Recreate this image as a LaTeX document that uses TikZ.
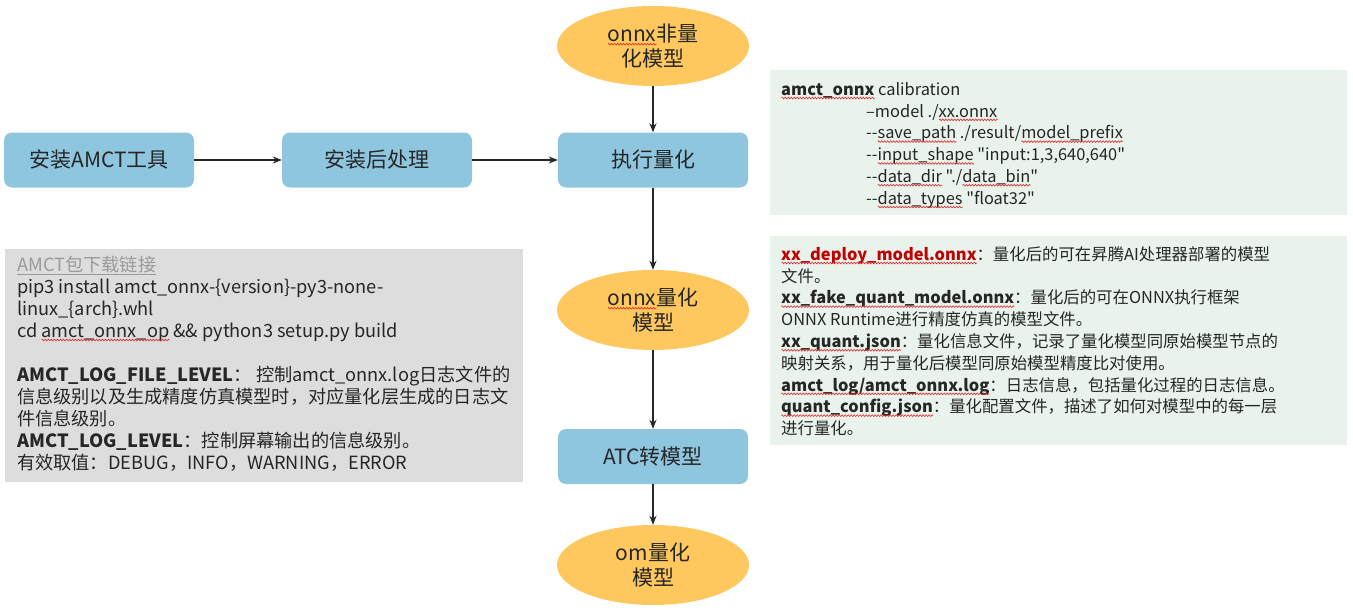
\documentclass[tikz,border=0pt]{standalone}
\usepackage{fontspec}
\newfontfamily\mainf{Noto Sans CJK SC}
\usetikzlibrary{shapes.geometric,arrows.meta,decorations.pathmorphing}
\definecolor{orng}{HTML}{FFC85F}
\definecolor{blu}{HTML}{8EC6E0}
\definecolor{grn}{HTML}{E9F3EC}
\definecolor{gry}{HTML}{DDDDDD}
\definecolor{txt}{HTML}{262626}
\definecolor{redt}{HTML}{C00000}
\definecolor{lnk}{HTML}{9A9A9A}
\definecolor{wav}{HTML}{E02020}
\newsavebox\sqbox
\newcommand\sqg[1]{\begingroup\sbox\sqbox{#1}\edef\sqwd{\the\wd\sqbox}\rlap{\usebox\sqbox}\raisebox{-4pt}[0pt][0pt]{\hbox to \sqwd{\tikz[x=1pt,y=1pt]{\draw[draw=wav,line width=0.55pt,decorate,decoration={zigzag,segment length=3pt,amplitude=0.9pt}] (0,0) -- (\sqwd,0);}\hss}}\endgroup}
\begin{document}
\mainf
\begin{tikzpicture}[x=1pt,y=-1pt,
  ellip/.style={ellipse,fill=orng,minimum width=192pt,minimum height=80pt,inner sep=0pt,align=center,text=txt,font=\fontsize{21}{25}\selectfont},
  procbox/.style={rounded corners=8pt,fill=blu,minimum width=190pt,minimum height=55pt,inner sep=0pt,text=txt,font=\fontsize{21}{25}\selectfont},
  panel/.style={anchor=north west,inner sep=0pt},
  txtblock/.style={anchor=north west,inner sep=0pt,align=left,text=txt},
  arr/.style={-{Stealth[length=9pt,width=7pt]},line width=1.4pt,draw=txt}
]
\useasboundingbox (0,0) rectangle (1353,610);
% flow nodes
\node[ellip] (m0) at (653,46) {\sqg{onnx}非量\\化模型};
\node[procbox] (inst) at (99,160) {安装AMCT工具};
\node[procbox] (post) at (377,160) {安装后处理};
\node[procbox] (exec) at (653,160) {执行量化};
\node[ellip] (m1) at (653,310) {\sqg{onnx}量化\\模型};
\node[procbox] (atc) at (653,456.5) {ATC转模型};
\node[ellip] (m2) at (653,565) {om量化\\模型};
% connectors
\draw[arr] (inst) -- (post);
\draw[arr] (post) -- (exec);
\draw[arr] (m0) -- (exec);
\draw[arr] (exec) -- (m1);
\draw[arr] (m1) -- (atc);
\draw[arr] (atc) -- (m2);
% panels
\node[panel,fill=grn,minimum width=577pt,minimum height=145pt] (cmdbg) at (770,70) {};
\node[txtblock,font=\fontsize{16.4}{21.8}\selectfont] (cmd) at (781,79) {\rule{0pt}{16pt}\sqg{\textbf{amct\_onnx}} calibration\\
\hspace*{85pt}–model ./\sqg{xx.onnx}\\
\hspace*{85pt}-{}-\sqg{save\_path} ./result/\sqg{model\_prefix}\\
\hspace*{85pt}-{}-\sqg{input\_shape} "input:1,3,640,640"\\
\hspace*{85pt}-{}-\sqg{data\_dir} "./\sqg{data\_bin}"\\
\hspace*{85pt}-{}-\sqg{data\_types} "float32"};
\node[panel,fill=grn,minimum width=577pt,minimum height=209pt] (outbg) at (770,236) {};
\node[txtblock,font=\fontsize{16.4}{21.8}\selectfont] (out) at (781,244) {\rule{0pt}{16pt}\sqg{\textcolor{redt}{\textbf{xx\_deploy\_model.onnx}}}：量化后的可在昇腾AI处理器部署的模型\\
文件。\\
\sqg{\textbf{xx\_fake\_quant\_model.onnx}}：量化后的可在ONNX执行框架\\
ONNX Runtime进行精度仿真的模型文件。\\
\sqg{\textbf{xx\_quant.json}}：量化信息文件，记录了量化模型同原始模型节点的\\
映射关系，用于量化后模型同原始模型精度比对使用。\\
\sqg{\textbf{amct\_log/amct\_onnx.log}}：日志信息，包括量化过程的日志信息。\\
\sqg{\textbf{quant\_config.json}}：量化配置文件，描述了如何对模型中的每一层\\
进行量化。};
\node[panel,fill=gry,minimum width=518pt,minimum height=233pt] (envbg) at (5,249) {};
\node[txtblock,font=\fontsize{18.2}{22}\selectfont] (env) at (17,254) {\rule{0pt}{17pt}\textcolor{lnk}{\underline{AMCT包下载链接}}\\
pip3 install amct\_onnx-\{version\}-py3-none-\\
linux\_\{arch\}.whl\\
cd \sqg{amct\_onnx\_op} \&\& python3 setup.py build\\[22pt]
\textbf{AMCT\_LOG\_FILE\_LEVEL}：\ 控制amct\_onnx.log日志文件的\\
信息级别以及生成精度仿真模型时，对应量化层生成的日志文\\
件信息级别。\\
\textbf{AMCT\_LOG\_LEVEL}：控制屏幕输出的信息级别。\\
有效取值：DEBUG，INFO，WARNING，ERROR};
\end{tikzpicture}
\end{document}
